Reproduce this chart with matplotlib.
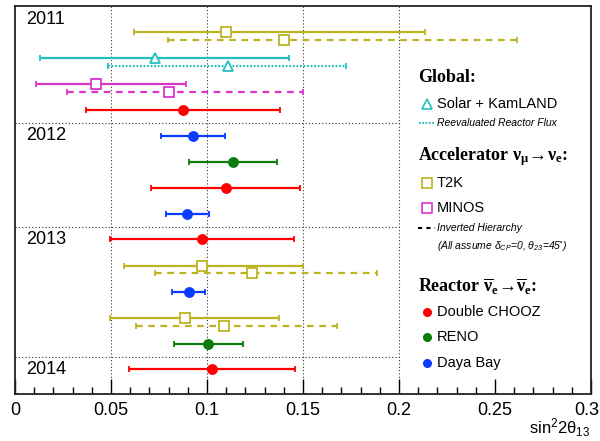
import numpy as np
import matplotlib
matplotlib.use('Agg')
import matplotlib.pyplot as plt
import matplotlib.transforms as mtransforms

plt.rcParams['font.family'] = ['Liberation Sans', 'DejaVu Sans']
plt.rcParams['mathtext.default'] = 'regular'

# measurements of sin^2(2 theta_13), top to bottom
labels = ['T2K', 'T2K IH', 'Solar+KamLAND', 'Reactor Flux', 'MINOS', 'MINOS IH',
          'Double CHOOZ',
          'Daya Bay', 'RENO', 'Double CHOOZ', 'Daya Bay',
          'Double CHOOZ', 'T2K', 'T2K IH', 'Daya Bay', 'T2K', 'T2K IH', 'RENO',
          'Double CHOOZ']
best = [0.110, 0.140, 0.073, 0.111, 0.042, 0.080, 0.0875,
        0.0925, 0.1135, 0.110, 0.0895,
        0.0972, 0.0972, 0.1234, 0.0905, 0.0885, 0.1089, 0.1005,
        0.1026]
low = [0.062, 0.0797, 0.013, 0.0484, 0.011, 0.027, 0.037,
       0.076, 0.0906, 0.0708, 0.0786,
       0.0495, 0.0568, 0.0729, 0.0818, 0.0495, 0.063, 0.0828,
       0.0594]
high = [0.2135, 0.2615, 0.1427, 0.1724, 0.089, 0.150, 0.138,
        0.1094, 0.1365, 0.1484, 0.101,
        0.1453, 0.150, 0.1885, 0.099, 0.1375, 0.1677, 0.1188,
        0.1458]
years = ['2011', '2012', '2013', '2014']

# vertical layout (top = 6, bottom = 394)
row_y = [32, 40, 58, 66, 84, 92, 110,
         136, 162, 188, 214,
         239, 266, 273, 292, 318, 326, 344,
         369]
year_y = [20, 136, 240, 370]
sep_y = [123, 227, 357]

olive = '#bdb421'
cyan = '#22bfbf'
magenta = '#d936c9'
red = '#ff0000'
green = '#0a7d0a'
blue = '#0a3cff'

styles = {
    'T2K': dict(color=olive, marker='s', mfc='white', ms=7.5, ls='-'),
    'T2K IH': dict(color=olive, marker='s', mfc='white', ms=7.5, ls=(0, (3, 2.5))),
    'Solar+KamLAND': dict(color=cyan, marker='^', mfc='white', ms=7.5, ls='-'),
    'Reactor Flux': dict(color=cyan, marker='^', mfc='white', ms=7.5, ls=(0, (0.8, 0.8))),
    'MINOS': dict(color=magenta, marker='s', mfc='white', ms=7.5, ls='-'),
    'MINOS IH': dict(color=magenta, marker='s', mfc='white', ms=7.5, ls=(0, (3, 2.5))),
    'Double CHOOZ': dict(color=red, marker='o', mfc=red, ms=6.5, ls='-'),
    'RENO': dict(color=green, marker='o', mfc=green, ms=6.5, ls='-'),
    'Daya Bay': dict(color=blue, marker='o', mfc=blue, ms=6.5, ls='-'),
}

fig = plt.figure(figsize=(6, 4.41), dpi=100)
ax = fig.add_axes([0.025, 0.1066, 0.96, 0.8798])

for x in [0.05, 0.1, 0.15, 0.2]:
    ax.axvline(x, color='#333333', lw=0.8, ls=(0, (1, 2)), zorder=0)
for y in sep_y:
    ax.plot([0, 0.2], [y, y], color='#333333', lw=0.8, ls=(0, (1, 2)), zorder=0)

for name, c, lo, hi, y in zip(labels, best, low, high, row_y):
    st = styles[name]
    eb = ax.errorbar(c, y, xerr=[[c - lo], [hi - c]], fmt=st['marker'],
                     color=st['color'], mfc=st['mfc'], mec=st['color'],
                     ms=st['ms'], mew=1.3, elinewidth=1.6, capsize=2.0,
                     capthick=1.6, zorder=3)
    eb[2][0].set_linestyle(st['ls'])

for yr, y in zip(years, year_y):
    ax.text(0.006, y, yr, fontsize=13, va='center', ha='left')

ax.set_xlim(0, 0.3)
ax.set_ylim(394, 6)
ax.set_yticks([])
ax.set_xticks(np.arange(0, 0.301, 0.05))
ax.set_xticklabels(['0', '0.05', '0.1', '0.15', '0.2', '0.25', '0.3'])
ax.set_xticks(np.arange(0, 0.301, 0.01), minor=True)
ax.tick_params(axis='x', which='major', direction='in', length=11, width=1, labelsize=13, pad=6)
ax.tick_params(axis='x', which='minor', direction='in', length=5, width=1)
for s in ax.spines.values():
    s.set_linewidth(1.3)
    s.set_color('#222222')

# keep the last tick label inside the picture
last = ax.get_xticklabels()[-1]
last.set_transform(last.get_transform() + mtransforms.ScaledTranslation(-4 / 100, 0, fig.dpi_scale_trans))

fig.text(590 / 600, 1 - 428 / 441, 'sin$^{2}$2θ$_{13}$', fontsize=12, ha='right', va='center')


# legend, drawn by hand in figure pixel coordinates
def fx(px):
    return px / 600


def fy(py):
    return 1 - py / 441


serif = ['Liberation Serif', 'DejaVu Serif']
fig.text(fx(418), fy(77), 'Global:', family=serif, weight='bold', fontsize=13, va='center')
fig.lines.append(plt.Line2D([fx(427)], [fy(104)], marker='^', mfc='white', mec=cyan, ms=7,
                            mew=1.2, transform=fig.transFigure))
fig.text(fx(437), fy(104), 'Solar + KamLAND', fontsize=10.5, va='center')
fig.lines.append(plt.Line2D([fx(419), fx(435)], [fy(123), fy(123)], color=cyan, lw=1.5,
                            ls=(0, (0.8, 0.8)), transform=fig.transFigure))
fig.text(fx(437), fy(123), 'Reevaluated Reactor Flux', fontsize=7.5, style='italic', va='center')

fig.text(fx(418), fy(157), r'Accelerator $\nu_{\mu}\!\rightarrow\!\nu_{e}$:',
         family=serif, weight='bold', fontsize=13, va='center', math_fontfamily='stix')
fig.lines.append(plt.Line2D([fx(427)], [fy(183)], marker='s', mfc='white', mec=olive, ms=7,
                            mew=1.2, transform=fig.transFigure))
fig.text(fx(437), fy(183), 'T2K', fontsize=10.5, va='center')
fig.lines.append(plt.Line2D([fx(427)], [fy(208)], marker='s', mfc='white', mec=magenta, ms=7,
                            mew=1.2, transform=fig.transFigure))
fig.text(fx(437), fy(208), 'MINOS', fontsize=10.5, va='center')
fig.lines.append(plt.Line2D([fx(418), fx(435)], [fy(228), fy(228)], color='black', lw=1.5,
                            ls=(0, (2, 2)), transform=fig.transFigure))
fig.text(fx(437), fy(228), 'Inverted Hierarchy', fontsize=7.5, style='italic', va='center')
fig.text(fx(437), fy(246), r'(All assume $\delta_{CP}$=0, $\theta_{23}$=45$^{\circ}$)',
         fontsize=7.5, style='italic', va='center')

fig.text(fx(418), fy(287), r'Reactor $\overline{\nu}_{e}\!\rightarrow\!\overline{\nu}_{e}$:',
         family=serif, weight='bold', fontsize=13, va='center', math_fontfamily='stix')
for name, col, py in [('Double CHOOZ', red, 312), ('RENO', green, 337), ('Daya Bay', blue, 363)]:
    fig.lines.append(plt.Line2D([fx(427)], [fy(py)], marker='o', color=col, ms=5.5,
                                transform=fig.transFigure))
    fig.text(fx(437), fy(py), name, fontsize=10.5, va='center')

fig.savefig('out.png', dpi=100)
